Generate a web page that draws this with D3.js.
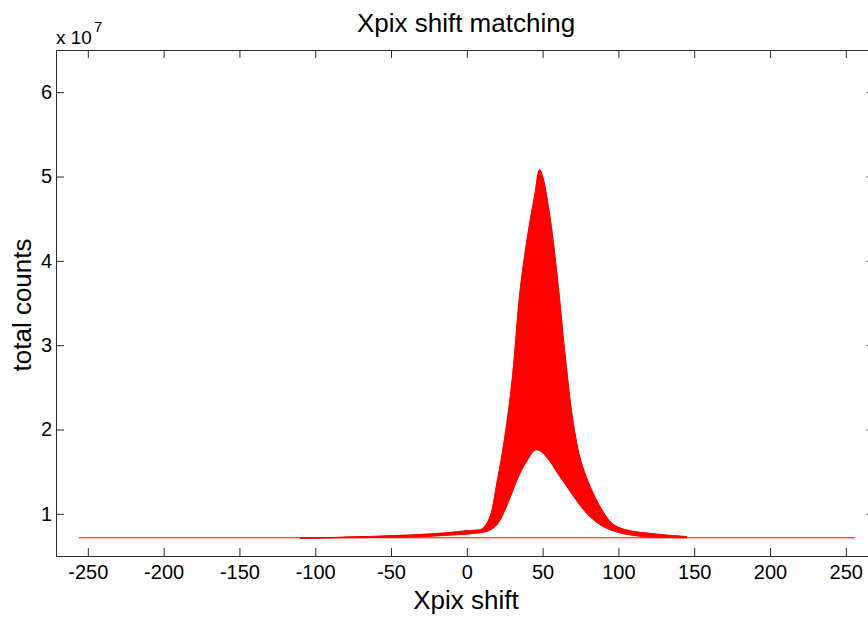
<!DOCTYPE html>
<html>
<head>
<meta charset="utf-8">
<script src="https://cdn.jsdelivr.net/npm/d3@7"></script>
<style>
  html, body { margin: 0; padding: 0; background: #ffffff; }
  svg { display: block; font-family: "Liberation Sans", Arial, Helvetica, sans-serif; }
</style>
</head>
<body>
<svg id="chart" width="868" height="617"></svg>
<script>
// Shift positions (pixels) at which each matching run was sampled
const shiftGrid = [-110, -80, -50, -30, -10, 0, 5, 10,
  15, 20, 25, 30, 35, 40, 45, 48, 50,
  55, 60, 65, 70, 75, 80, 85, 90, 95, 100,
  110, 120, 130, 145];

// Total counts per run, in units of 1e7
const countsA = [0.716, 0.722, 0.740, 0.755, 0.780, 0.800, 0.805, 0.820,
  0.950, 1.380, 1.900, 2.600, 3.620, 4.280, 4.800, 5.080, 5.000,
  4.500, 3.750, 2.850, 2.100, 1.600, 1.280, 1.060, 0.920, 0.830, 0.780,
  0.745, 0.725, 0.720, 0.716];
const countsB = [0.716, 0.721, 0.735, 0.750, 0.772, 0.790, 0.795, 0.810,
  0.880, 1.200, 1.650, 2.250, 3.050, 3.750, 4.250, 4.450, 4.400,
  4.000, 3.400, 2.700, 2.000, 1.550, 1.250, 1.050, 0.930, 0.860, 0.810,
  0.770, 0.745, 0.735, 0.720];
const countsC = [0.716, 0.721, 0.733, 0.748, 0.768, 0.785, 0.790, 0.805,
  0.860, 1.100, 1.500, 2.000, 2.700, 3.300, 3.720, 3.800, 3.750,
  3.450, 3.000, 2.500, 2.050, 1.620, 1.330, 1.130, 0.980, 0.890, 0.830,
  0.780, 0.760, 0.740, 0.725];
const countsD = [0.716, 0.720, 0.731, 0.745, 0.765, 0.780, 0.788, 0.800,
  0.840, 1.000, 1.350, 1.850, 2.400, 2.850, 3.120, 3.150, 3.120,
  2.920, 2.600, 2.300, 2.000, 1.640, 1.380, 1.180, 1.020, 0.900, 0.840,
  0.790, 0.770, 0.750, 0.730];
const countsE = [0.716, 0.720, 0.729, 0.742, 0.760, 0.775, 0.782, 0.795,
  0.820, 0.930, 1.200, 1.600, 2.050, 2.400, 2.580, 2.600, 2.570,
  2.420, 2.180, 1.900, 1.650, 1.420, 1.220, 1.070, 0.950, 0.870, 0.820,
  0.780, 0.760, 0.745, 0.725];
const countsF = [0.716, 0.720, 0.726, 0.738, 0.755, 0.768, 0.776, 0.788,
  0.810, 0.900, 1.100, 1.400, 1.750, 2.000, 2.150, 2.140, 2.110,
  1.980, 1.800, 1.600, 1.420, 1.250, 1.100, 0.980, 0.890, 0.830, 0.800,
  0.770, 0.750, 0.740, 0.725];
const countsG = [0.716, 0.718, 0.722, 0.730, 0.750, 0.760, 0.770, 0.780,
  0.805, 0.875, 1.040, 1.260, 1.480, 1.640, 1.757, 1.750, 1.725,
  1.620, 1.480, 1.350, 1.220, 1.095, 0.990, 0.910, 0.850, 0.810, 0.785,
  0.760, 0.740, 0.730, 0.720];

// Unshifted reference level over the full search range
const baselineShift = [-256, 256];
const baselineCounts = [0.716, 0.716];

const xTicks = [-250, -200, -150, -100, -50, 0, 50, 100, 150, 200, 250];
const yTicks = [1, 2, 3, 4, 5, 6];

const runs = [countsA, countsB, countsC, countsD, countsE, countsF, countsG];

const svg = d3.select("#chart");
const plotLeft = 56, plotRight = 874.6, plotTop = 50, plotBottom = 556;

const x = d3.scaleLinear().domain([-271, 269]).range([plotLeft, plotRight]);
const y = d3.scaleLinear().domain([0.5, 6.5]).range([plotBottom, plotTop]);

svg.append("defs").append("clipPath").attr("id", "plotClip")
  .append("rect").attr("x", plotLeft).attr("y", plotTop)
  .attr("width", plotRight - plotLeft).attr("height", plotBottom - plotTop);

const plot = svg.append("g").attr("clip-path", "url(#plotClip)");

// Flat reference line
plot.append("path")
  .datum(baselineShift.map((s, i) => [s, baselineCounts[i]]))
  .attr("fill", "none")
  .attr("stroke", "#ff0000")
  .attr("stroke-width", 1)
  .attr("d", d3.line().x(d => x(d[0])).y(d => y(d[1])));

const smooth = d3.curveCatmullRom.alpha(0.5);

// Dense bundle of runs: filled between the lowest and highest run at each shift
const band = shiftGrid.map((s, i) => ({
  s,
  lo: d3.min(runs, r => r[i]),
  hi: d3.max(runs, r => r[i])
}));
plot.append("path")
  .datum(band)
  .attr("fill", "#ff0000")
  .attr("stroke", "#ff0000")
  .attr("stroke-width", 0.8)
  .attr("d", d3.area().curve(smooth)
    .x(d => x(d.s)).y0(d => y(d.lo)).y1(d => y(d.hi)));

const line = d3.line().curve(smooth)
  .x((d, i) => x(shiftGrid[i])).y(d => y(d));
plot.selectAll("path.run")
  .data(runs)
  .join("path")
  .attr("class", "run")
  .attr("fill", "none")
  .attr("stroke", "#ff0000")
  .attr("stroke-width", 1)
  .attr("d", d => line(d));

// Axes box with inward ticks on all four sides
const axisColor = "#2b2b2b";
const tickText = d => String(d);
function styleAxis(g) {
  g.selectAll("path.domain").attr("stroke", axisColor).attr("stroke-width", 1);
  g.selectAll(".tick line").attr("stroke", axisColor).attr("stroke-width", 1);
  g.selectAll("text").attr("fill", "#000").attr("font-size", 20)
    .attr("font-family", '"Liberation Sans", Arial, Helvetica, sans-serif');
}

svg.append("g").attr("transform", `translate(0,${plotBottom})`)
  .call(d3.axisBottom(x).tickValues(xTicks).tickSizeInner(-8).tickSizeOuter(0)
    .tickPadding(9).tickFormat(tickText))
  .call(styleAxis);
svg.append("g").attr("transform", `translate(0,${plotTop})`)
  .call(d3.axisTop(x).tickValues(xTicks).tickSizeInner(-8).tickSizeOuter(0)
    .tickFormat(""))
  .call(styleAxis);
svg.append("g").attr("transform", `translate(${plotLeft},0)`)
  .call(d3.axisLeft(y).tickValues(yTicks).tickSizeInner(-8).tickSizeOuter(0)
    .tickPadding(4).tickFormat(tickText))
  .call(styleAxis);
svg.append("g").attr("transform", `translate(${plotRight},0)`)
  .call(d3.axisRight(y).tickValues(yTicks).tickSizeInner(-8).tickSizeOuter(0)
    .tickFormat(""))
  .call(styleAxis);

// Exponent marker for the count axis
const expo = svg.append("text").attr("x", 56).attr("y", 44)
  .attr("font-size", 19).attr("fill", "#000");
expo.append("tspan").text("x 10");
expo.append("tspan").attr("dx", 2).attr("dy", -12).attr("font-size", 15).text("7");

// Title and axis labels
svg.append("text").attr("x", 466).attr("y", 32)
  .attr("text-anchor", "middle").attr("font-size", 26).attr("fill", "#000")
  .text("Xpix shift matching");
svg.append("text").attr("x", 466).attr("y", 609)
  .attr("text-anchor", "middle").attr("font-size", 26).attr("fill", "#000")
  .text("Xpix shift");
svg.append("text")
  .attr("transform", "translate(31,305) rotate(-90)")
  .attr("text-anchor", "middle").attr("font-size", 26).attr("fill", "#000")
  .text("total counts");
</script>
</body>
</html>
